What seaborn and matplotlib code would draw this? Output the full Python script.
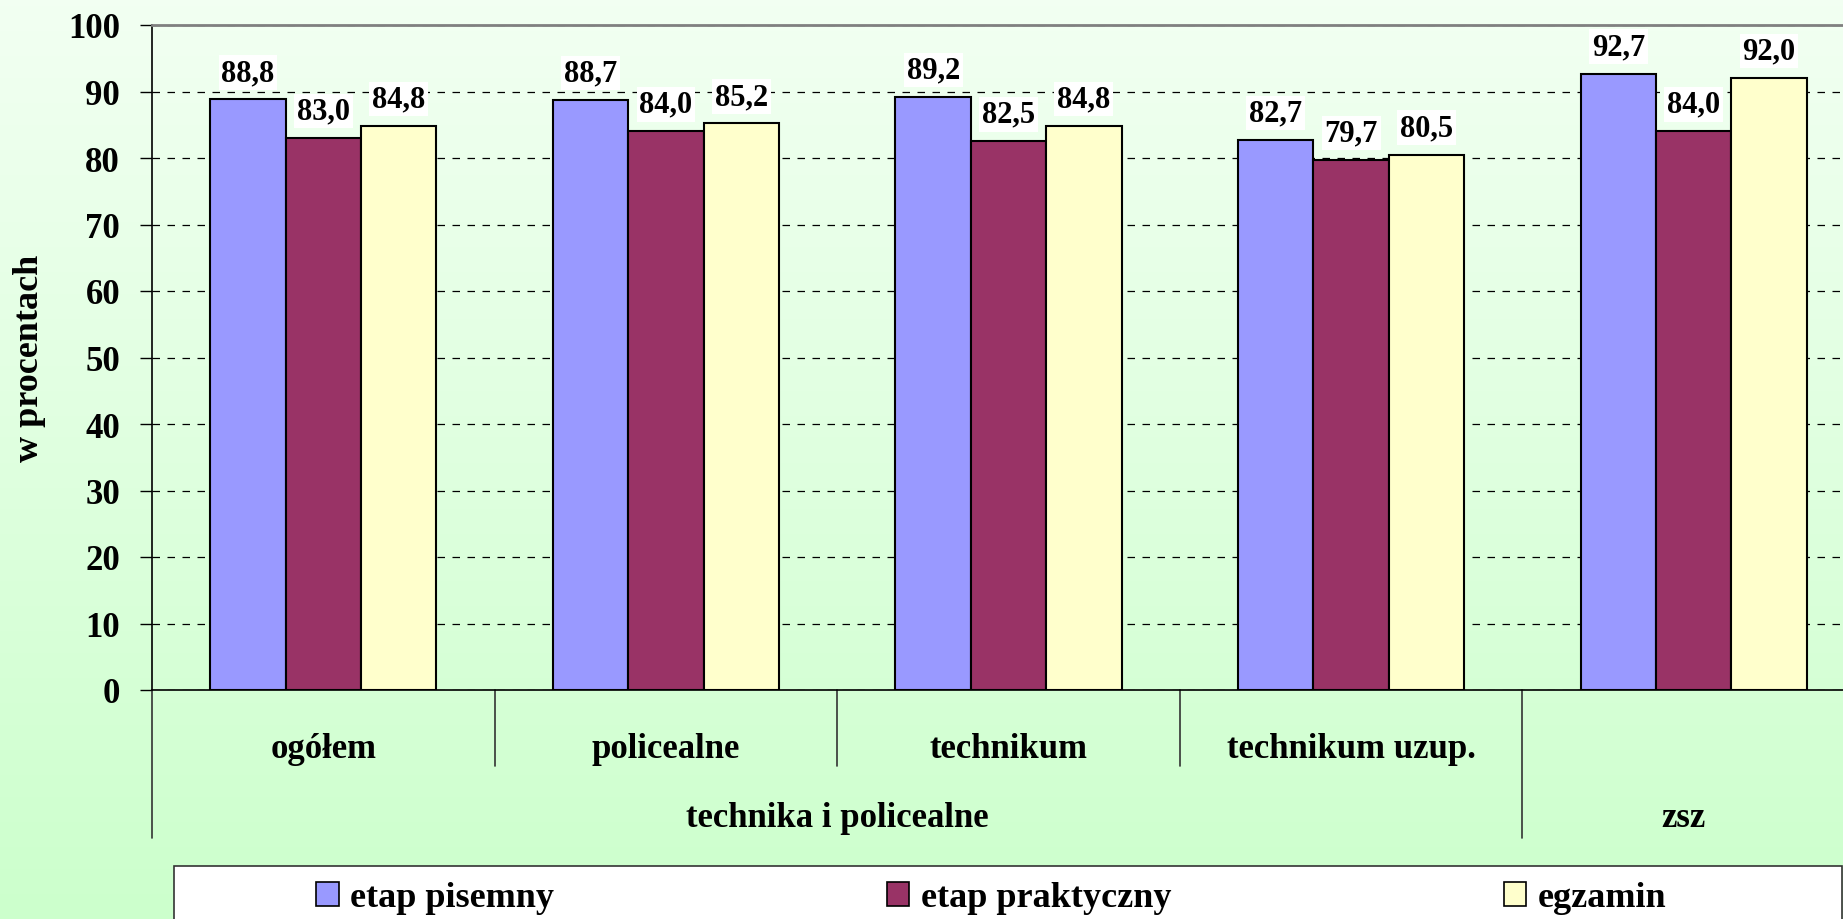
import numpy as np
import pandas as pd
import seaborn as sns
import matplotlib.pyplot as plt
import matplotlib.transforms as mtransforms
from matplotlib.patches import Patch, Rectangle

# --- data ---
categories = ["ogółem", "policealne", "technikum", "technikum uzup.", "zsz"]
tick_labels = ["ogółem", "policealne", "technikum", "technikum uzup.", ""]
series = ["etap pisemny", "etap praktyczny", "egzamin"]
etap_pisemny = [88.8, 88.7, 89.2, 82.7, 92.7]
etap_praktyczny = [83.0, 84.0, 82.5, 79.7, 84.0]
egzamin = [84.8, 85.2, 84.8, 80.5, 92.0]
group_labels = ["technika i policealne", "zsz"]

COLORS = ["#9999FF", "#993366", "#FFFFCC"]

df = pd.DataFrame({
    "kategoria": categories * 3,
    "seria": np.repeat(series, len(categories)),
    "wartosc": etap_pisemny + etap_praktyczny + egzamin,
})

sns.set_theme(style="white")
plt.rcParams["font.family"] = ["Liberation Serif", "DejaVu Serif"]
plt.rcParams["font.weight"] = "bold"
for k in ["text.color", "axes.labelcolor", "xtick.color", "ytick.color"]:
    plt.rcParams[k] = "black"

W, H = 1843, 920
fig = plt.figure(figsize=(W / 100, H / 100), dpi=100)

# background gradient (pale green at top -> light green at bottom)
bg = fig.add_axes([0, 0, 1, 1], zorder=-10)
grad = np.linspace(0, 1, 256).reshape(-1, 1)
top = np.array([0.95, 1.0, 0.95])
bot = np.array([0.80, 1.0, 0.80])
img = top + (bot - top) * grad[..., None]
bg.imshow(img, aspect="auto", extent=[0, 1, 0, 1], origin="upper")
bg.axis("off")

x0, x1 = 152, 1865
y_zero, y_top = 691, 26
ax = fig.add_axes([x0 / W, (H - y_zero) / H, (x1 - x0) / W, (y_zero - y_top) / H])
ax.set_facecolor("none")

sns.barplot(data=df, x="kategoria", y="wartosc", hue="seria", order=categories,
            hue_order=series, palette=COLORS, width=0.66, edgecolor="black",
            linewidth=1.5, saturation=1, ax=ax, legend=False)

for cont in ax.containers:
    labels = [f"{b.get_height():.1f}".replace(".", ",") for b in cont]
    ax.bar_label(cont, labels=labels, padding=9, fontsize=22, fontweight="bold",
                 bbox=dict(facecolor="white", edgecolor="none", pad=2))

ax.set_xlim(-0.5, 4.5)
ax.set_ylim(0, 100)
ax.set_yticks(range(0, 101, 10))
ax.tick_params(axis="y", labelsize=25, length=9, width=1, direction="out",
               pad=14, left=True)
for t in ax.get_yticklabels():
    t.set_fontweight("bold")
ax.set_xticks(range(len(categories)))
ax.set_xticklabels(tick_labels, fontsize=25, fontweight="bold")
ax.tick_params(axis="x", length=0, pad=30)
ax.set_xlabel("")
ax.set_ylabel("w procentach", fontsize=26, fontweight="bold", labelpad=16)

ax.grid(axis="y", color="black", linestyle=(0, (6, 6)), linewidth=0.9)
ax.set_axisbelow(True)
for s in ["left", "bottom"]:
    ax.spines[s].set_color("black")
    ax.spines[s].set_linewidth(1.2)
ax.spines["top"].set_color("#808080")
ax.spines["top"].set_linewidth(2)
ax.spines["right"].set_visible(False)

# category separators below the axis
trans = mtransforms.blended_transform_factory(ax.transData, ax.transAxes)
for xs in [0.5, 1.5, 2.5]:
    ax.plot([xs, xs], [0, -0.115], transform=trans, color="#333333", lw=1.2, clip_on=False)
for xs in [-0.5, 3.5, 4.5]:
    ax.plot([xs, xs], [0, -0.222], transform=trans, color="#333333", lw=1.2, clip_on=False)

ax.text(1.5, -0.192, group_labels[0], transform=trans, ha="center", va="center",
        fontsize=25, fontweight="bold")
ax.text(3.97, -0.192, group_labels[1], transform=trans, ha="center", va="center",
        fontsize=25, fontweight="bold")

# legend box
fig.patches.append(Rectangle((174 / W, -0.05), (W - 1 - 174) / W, 53 / H + 0.05,
                             transform=fig.transFigure, facecolor="white",
                             edgecolor="#333333", linewidth=1.2, zorder=1))
handles = [Patch(facecolor=c, edgecolor="black", linewidth=1.2) for c in COLORS]
leg = fig.legend(handles, series, loc="center left", ncol=3,
                 bbox_to_anchor=(316 / W, 21 / H), frameon=False, fontsize=26,
                 handlelength=0.63, handleheight=0.63, handletextpad=0.32,
                 columnspacing=9.2, borderaxespad=0, borderpad=0)
for t in leg.get_texts():
    t.set_fontweight("bold")

fig.savefig("out.png", dpi=100)
